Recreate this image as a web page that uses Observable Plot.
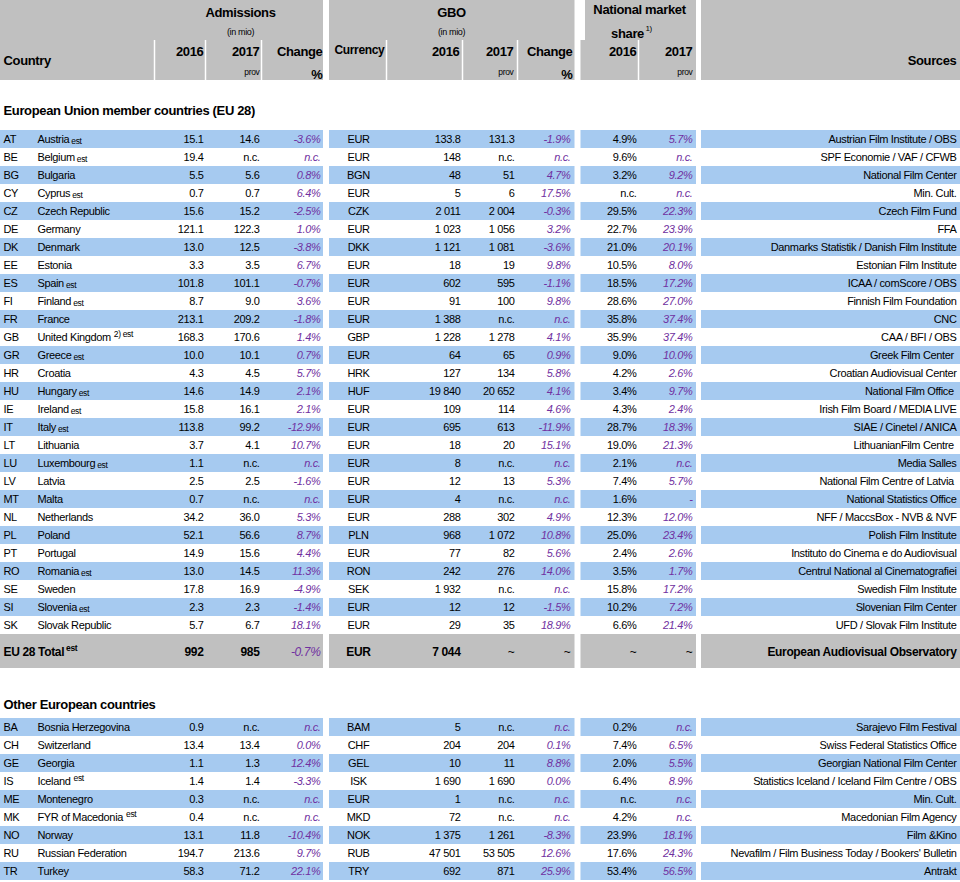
<!DOCTYPE html>
<html><head><meta charset="utf-8">
<script src="https://cdn.jsdelivr.net/npm/d3@7"></script>
<script src="https://cdn.jsdelivr.net/npm/@observablehq/plot@0.6"></script>
<style>body{margin:0;background:#fff}svg{display:block}</style>
</head><body><div id="chart"></div>
<script>
// ---------------- DATA ----------------
const euCodes = ["AT","BE","BG","CY","CZ","DE","DK","EE","ES","FI","FR","GB","GR","HR","HU","IE","IT","LT","LU","LV","MT","NL","PL","PT","RO","SE","SI","SK"];
const euCountries = ["Austria","Belgium","Bulgaria","Cyprus","Czech Republic","Germany","Denmark","Estonia","Spain","Finland","France","United Kingdom","Greece","Croatia","Hungary","Ireland","Italy","Lithuania","Luxembourg","Latvia","Malta","Netherlands","Poland","Portugal","Romania","Sweden","Slovenia","Slovak Republic"];
const euNotes = ["est","est","","est","","","","","est","est","","2) est","est","","est","est","est","","est","","","","","","est","","est",""];
const euAdm2016 = [15.1,19.4,5.5,0.7,15.6,121.1,13.0,3.3,101.8,8.7,213.1,168.3,10.0,4.3,14.6,15.8,113.8,3.7,1.1,2.5,0.7,34.2,52.1,14.9,13.0,17.8,2.3,5.7];
const euAdm2017 = [14.6,null,5.6,0.7,15.2,122.3,12.5,3.5,101.1,9.0,209.2,170.6,10.1,4.5,14.9,16.1,99.2,4.1,null,2.5,null,36.0,56.6,15.6,14.5,16.9,2.3,6.7];
const euAdmChange = [-3.6,null,0.8,6.4,-2.5,1.0,-3.8,6.7,-0.7,3.6,-1.8,1.4,0.7,5.7,2.1,2.1,-12.9,10.7,null,-1.6,null,5.3,8.7,4.4,11.3,-4.9,-1.4,18.1];
const euCurrency = ["EUR","EUR","BGN","EUR","CZK","EUR","DKK","EUR","EUR","EUR","EUR","GBP","EUR","HRK","HUF","EUR","EUR","EUR","EUR","EUR","EUR","EUR","PLN","EUR","RON","SEK","EUR","EUR"];
const euGbo2016 = [133.8,148,48,5,2011,1023,1121,18,602,91,1388,1228,64,127,19840,109,695,18,8,12,4,288,968,77,242,1932,12,29];
const euGbo2017 = [131.3,null,51,6,2004,1056,1081,19,595,100,null,1278,65,134,20652,114,613,20,null,13,null,302,1072,82,276,null,12,35];
const euGboChange = [-1.9,null,4.7,17.5,-0.3,3.2,-3.6,9.8,-1.1,9.8,null,4.1,0.9,5.8,4.1,4.6,-11.9,15.1,null,5.3,null,4.9,10.8,5.6,14.0,null,-1.5,18.9];
const euShare2016 = [4.9,9.6,3.2,null,29.5,22.7,21.0,10.5,18.5,28.6,35.8,35.9,9.0,4.2,3.4,4.3,28.7,19.0,2.1,7.4,1.6,12.3,25.0,2.4,3.5,15.8,10.2,6.6];
const euShare2017 = [5.7,null,9.2,null,22.3,23.9,20.1,8.0,17.2,27.0,37.4,37.4,10.0,2.6,9.7,2.4,18.3,21.3,null,5.7,"-",12.0,23.4,2.6,1.7,17.2,7.2,21.4];
const euSources = ["Austrian Film Institute / OBS","SPF Economie / VAF / CFWB","National Film Center","Min. Cult.","Czech Film Fund","FFA","Danmarks Statistik / Danish Film Institute","Estonian Film Institute","ICAA / comScore / OBS","Finnish Film Foundation","CNC","CAA / BFI / OBS","Greek Film Center ","Croatian Audiovisual Center","National Film Office ","Irish Film Board / MEDIA LIVE","SIAE / Cinetel / ANICA","LithuanianFilm Centre ","Media Salles","National Film Centre of Latvia ","National Statistics Office","NFF / MaccsBox - NVB & NVF","Polish Film Institute","Instituto do Cinema e do Audiovisual","Centrul National al Cinematografiei","Swedish Film Institute","Slovenian Film Center","UFD / Slovak Film Institute"];

const totalLabel = "EU 28 Total";
const totalNote = "est";
const totalValues = ["992","985",-0.7,"EUR","7 044","~","~","~","~","European Audiovisual Observatory"];

const otCodes = ["BA","CH","GE","IS","ME","MK","NO","RU","TR"];
const otCountries = ["Bosnia Herzegovina","Switzerland","Georgia","Iceland","Montenegro","FYR of Macedonia","Norway","Russian Federation","Turkey"];
const otNotes = ["","","","est","","est","","",""];
const otAdm2016 = [0.9,13.4,1.1,1.4,0.3,0.4,13.1,194.7,58.3];
const otAdm2017 = [null,13.4,1.3,1.4,null,null,11.8,213.6,71.2];
const otAdmChange = [null,0.0,12.4,-3.3,null,null,-10.4,9.7,22.1];
const otCurrency = ["BAM","CHF","GEL","ISK","EUR","MKD","NOK","RUB","TRY"];
const otGbo2016 = [5,204,10,1690,1,72,1375,47501,692];
const otGbo2017 = [null,204,11,1690,null,null,1261,53505,871];
const otGboChange = [null,0.1,8.8,0.0,null,null,-8.3,12.6,25.9];
const otShare2016 = [0.2,7.4,2.0,6.4,null,4.2,23.9,17.6,53.4];
const otShare2017 = [null,6.5,5.5,8.9,null,null,18.1,24.3,56.5];
const otSources = ["Sarajevo Film Festival","Swiss Federal Statistics Office","Georgian National Film Center","Statistics Iceland / Iceland Film Centre / OBS","Min. Cult.","Macedonian Film Agency","Film &Kino","Nevafilm / Film Business Today / Bookers' Bulletin","Antrakt"];
const superNoteCodes = ["GB","IS","MK"];

const sectionTitles = ["European Union member countries (EU 28)","Other European countries"];

// ---------------- LAYOUT ----------------
const blue = "#a6caf0", grey = "#c0c0c0", purple = "#7030a0", ink = "#000";
const FONT = "'Liberation Sans', Arial, sans-serif";
const LS = 0.35;
const blocks = [[0,323],[329,574.5],[580.5,696],[701,960]];
const rowH = 18, euTop = 130, totalTop = 634, totalBottom = 668, otTop = 718;

const fmtAdm = v => v == null ? "n.c." : v.toFixed(1);
const fmtPct = v => v == null ? "n.c." : (typeof v === "string" ? v : v.toFixed(1) + "%");
const fmtGbo = v => v == null ? "n.c." : (Number.isInteger(v) ? String(v).replace(/\B(?=(\d{3})+(?!\d))/g, " ") : v.toFixed(1));

function buildRows(top, codes, names, notes, a16, a17, ach, cur, g16, g17, gch, s16, s17, src) {
  return codes.map((c, i) => ({
    code: c, name: names[i], note: notes[i],
    adm16: fmtAdm(a16[i]), adm17: fmtAdm(a17[i]), admCh: fmtPct(ach[i]),
    cur: cur[i], gbo16: fmtGbo(g16[i]), gbo17: fmtGbo(g17[i]), gboCh: fmtPct(gch[i]),
    sh16: fmtPct(s16[i]), sh17: fmtPct(s17[i]), src: src[i],
    y0: top + i * rowH, y1: top + (i + 1) * rowH, yc: top + i * rowH + 9.2, stripe: i % 2 === 0
  }));
}
const rows = [
  ...buildRows(euTop, euCodes, euCountries, euNotes, euAdm2016, euAdm2017, euAdmChange, euCurrency, euGbo2016, euGbo2017, euGboChange, euShare2016, euShare2017, euSources),
  ...buildRows(otTop, otCodes, otCountries, otNotes, otAdm2016, otAdm2017, otAdmChange, otCurrency, otGbo2016, otGbo2017, otGboChange, otShare2016, otShare2017, otSources)
];

const cols = [
  {key: "code", x: 3, anchor: "start"},
  {key: "name", x: 37, anchor: "start"},
  {key: "adm16", x: 203, anchor: "end"},
  {key: "adm17", x: 259, anchor: "end"},
  {key: "admCh", x: 320, anchor: "end", accent: true},
  {key: "cur", x: 358, anchor: "middle"},
  {key: "gbo16", x: 460, anchor: "end"},
  {key: "gbo17", x: 514, anchor: "end"},
  {key: "gboCh", x: 570, anchor: "end", accent: true},
  {key: "sh16", x: 636, anchor: "end"},
  {key: "sh17", x: 692, anchor: "end", accent: true},
  {key: "src", x: 956, anchor: "end"}
];

const ctx = document.createElement("canvas").getContext("2d");
function textWidth(s, font) { ctx.font = font; return ctx.measureText(s).width - s.length * LS; }

const stripes = rows.filter(r => r.stripe).flatMap(r => blocks.map(b => ({x1: b[0], x2: b[1], y1: r.y0, y2: r.y1})));
const totalRects = blocks.map(b => ({x1: b[0], x2: b[1], y1: totalTop, y2: totalBottom}));
const headerRects = [
  {x1: 0, x2: 323, y1: 0, y2: 80},
  {x1: 329, x2: 574.5, y1: 0, y2: 80},
  {x1: 585, x2: 696, y1: 0, y2: 40},
  {x1: 580.5, x2: 696, y1: 40, y2: 80},
  {x1: 701, x2: 960, y1: 0, y2: 80}
];
const headerDividers = [154, 205, 261, 386, 462, 517, 638];

const noteItems = rows.filter(r => r.note).map(r => {
  const sup = superNoteCodes.includes(r.code);
  return {text: r.note, x: 37 + textWidth(r.name, `11px ${FONT}`) + (sup ? 3 : 2), y: sup ? r.yc - 3 : r.yc + 2};
});

const headerItems = [
  {text: "Admissions", x: 240, y: 12, anchor: "middle", size: 13, bold: true},
  {text: "(in mio)", x: 240, y: 32, anchor: "middle", size: 9},
  {text: "GBO", x: 451, y: 12, anchor: "middle", size: 13, bold: true},
  {text: "(in mio)", x: 451, y: 32, anchor: "middle", size: 9},
  {text: "National market", x: 639, y: 9, anchor: "middle", size: 13, bold: true},
  {text: "share", x: 627, y: 33, anchor: "middle", size: 13, bold: true},
  {text: "1)", x: 645, y: 28, anchor: "start", size: 8},
  {text: "Country", x: 3, y: 60, anchor: "start", size: 13, bold: true},
  {text: "2016", x: 203, y: 51, anchor: "end", size: 13, bold: true},
  {text: "2017", x: 259, y: 51, anchor: "end", size: 13, bold: true},
  {text: "prov", x: 259, y: 72, anchor: "end", size: 8.5},
  {text: "Change", x: 322, y: 51, anchor: "end", size: 13, bold: true},
  {text: "%", x: 322, y: 74, anchor: "end", size: 13, bold: true},
  {text: "Currency", x: 334, y: 50, anchor: "start", size: 12, bold: true},
  {text: "2016", x: 459, y: 51, anchor: "end", size: 13, bold: true},
  {text: "2017", x: 513, y: 51, anchor: "end", size: 13, bold: true},
  {text: "prov", x: 513, y: 72, anchor: "end", size: 8.5},
  {text: "Change", x: 572, y: 51, anchor: "end", size: 13, bold: true},
  {text: "%", x: 572, y: 74, anchor: "end", size: 13, bold: true},
  {text: "2016", x: 636, y: 51, anchor: "end", size: 13, bold: true},
  {text: "2017", x: 692, y: 51, anchor: "end", size: 13, bold: true},
  {text: "prov", x: 692, y: 72, anchor: "end", size: 8.5},
  {text: "Sources", x: 956, y: 60, anchor: "end", size: 13, bold: true}
];

const sectionItems = [
  {text: sectionTitles[0], y: 110},
  {text: sectionTitles[1], y: 704}
];

const totalY = 652;
const totalCols = cols.slice(2);
const totalItems = totalValues.map((v, i) => ({
  text: typeof v === "number" ? fmtPct(v) : v, x: totalCols[i].x, anchor: totalCols[i].anchor,
  accent: !!totalCols[i].accent && typeof v === "number", bold: !(totalCols[i].accent) && v !== "~"
}));
const totalLabelW = textWidth(totalLabel, `bold 12px ${FONT}`);

// ---------------- MARKS ----------------
const marks = [
  Plot.rect(headerRects, {x1: "x1", x2: "x2", y1: "y1", y2: "y2", fill: grey}),
  Plot.ruleX(headerDividers, {x: d => d, y1: () => 40, y2: () => 80, stroke: "#fff", strokeWidth: 1.5}),
  Plot.rect(stripes, {x1: "x1", x2: "x2", y1: "y1", y2: "y2", fill: blue}),
  Plot.rect(totalRects, {x1: "x1", x2: "x2", y1: "y1", y2: "y2", fill: grey}),
  ...headerItems.map(h => Plot.text([h], {x: "x", y: "y", text: "text", textAnchor: h.anchor, fontSize: h.size, fontWeight: h.bold ? "bold" : "normal", fill: ink})),
  ...sectionItems.map(s => Plot.text([s], {x: () => 3, y: "y", text: "text", textAnchor: "start", fontSize: 13, fontWeight: "bold", fill: ink})),
  ...cols.map(c => Plot.text(rows, {
    x: () => c.x, y: "yc", text: c.key, textAnchor: c.anchor, fontSize: 11,
    fill: c.accent ? purple : ink, fontStyle: c.accent ? "italic" : "normal"
  })),
  Plot.text(noteItems, {x: "x", y: "y", text: "text", textAnchor: "start", fontSize: 8.5, fill: ink}),
  Plot.text([totalLabel], {x: () => 3, y: () => totalY, text: d => d, textAnchor: "start", fontSize: 12, fontWeight: "bold", fill: ink}),
  Plot.text([totalNote], {x: () => 3 + totalLabelW + 2, y: () => totalY - 4, text: d => d, textAnchor: "start", fontSize: 8.5, fontWeight: "bold", fill: ink}),
  ...totalItems.map(t => Plot.text([t], {
    x: "x", y: () => totalY, text: "text", textAnchor: t.anchor, fontSize: 12,
    fontWeight: t.bold ? "bold" : "normal", fontStyle: t.accent ? "italic" : "normal", fill: t.accent ? purple : ink
  }))
];

const chart = Plot.plot({
  width: 960, height: 882, margin: 0,
  x: {type: "identity"}, y: {type: "identity"}, axis: null,
  style: {fontFamily: FONT, fontSize: "11px", letterSpacing: `-${LS}px`, background: "#fff", color: "#000"},
  marks
});
document.getElementById("chart").appendChild(chart);
</script>
</body></html>
